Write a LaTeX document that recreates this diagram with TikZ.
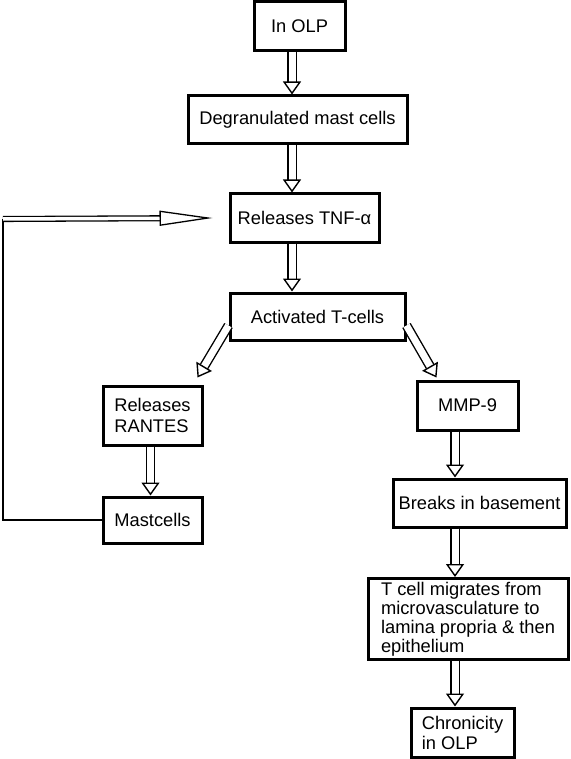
\documentclass[tikz,border=0pt]{standalone}
\usepackage{fontspec}
\setmainfont{Liberation Sans}
\usetikzlibrary{arrows.meta}

\begin{document}
\begin{tikzpicture}[x=1pt, y=-1pt,
  box/.style={draw, line width=3pt, inner sep=1pt, align=center, font=\fontsize{18.3}{21}\selectfont},
  blk/.style={double, double distance=7pt, line width=1.4pt, -{Triangle[length=13pt, width=18pt, fill=white, line width=1.4pt]}},
  fbk/.style={double, double distance=3.5pt, line width=1.3pt, -{Triangle[length=53pt, width=15pt, fill=white, line width=1.3pt]}}]
\useasboundingbox (0,0) rectangle (570,759);
\coordinate (spine) at (292,0);
\coordinate (rspine) at (455,0);
\coordinate (fb) at (3,219);
% main column
\node[box, minimum width=91pt, minimum height=49pt] (olp) at (299.5,26.5) {In OLP};
\node[box, minimum width=219pt, minimum height=48pt] (degr) at (297.5,120) {Degranulated mast cells};
\node[box, minimum width=149pt, minimum height=48pt] (tnf) at (304.5,218) {Releases TNF-α};
\node[box, minimum width=175pt, minimum height=47pt] (act) at (317.5,316.5) {Activated T-cells};
% left branch
\node[box, minimum width=99pt, minimum height=59pt, align=left] (rant) at (152.5,415.5) {Releases\\RANTES};
\node[box, minimum width=99pt, minimum height=46pt] (mast) at (152.5,520) {Mastcells};
% right branch
\node[box, minimum width=101pt, minimum height=49pt] (mmp) at (467.5,405.5) {MMP-9};
\node[box, minimum width=173pt, minimum height=48pt] (brk) at (479.5,503) {Breaks in basement};
\node[box, minimum width=200pt, minimum height=81pt, inner sep=0pt, align=left, font=\fontsize{18.3}{19}\selectfont] (tcell) at (468,619) {T cell migrates from\\microvasculature to\\lamina propria \& then\\epithelium};
\node[box, minimum width=103pt, minimum height=49pt, align=left, font=\fontsize{18.3}{20}\selectfont] (chr) at (462.5,732.5) {Chronicity\\in OLP};
% arrows
\draw[blk] (olp.south -| spine) -- (degr.north -| spine);
\draw[blk] (degr.south -| spine) -- (tnf.north -| spine);
\draw[blk] (tnf.south -| spine) -- (act.north -| spine);
\draw[blk] ([yshift=-9pt]act.west) -- ([shift={(-6pt,7pt)}]rant.north east);
\draw[blk] ([yshift=-9pt]act.east) -- ([shift={(21pt,2pt)}]mmp.north west);
\draw[blk] ([xshift=-2pt]rant.south) -- ([xshift=-2pt]mast.north);
\draw[blk] (mmp.south -| rspine) -- (brk.north -| rspine);
\draw[blk] (brk.south -| rspine) -- (tcell.north -| rspine);
\draw[blk] (tcell.south -| rspine) -- (chr.north -| rspine);
% feedback
\draw[line width=1.3pt] (mast.west) -| (fb);
\draw[fbk] (fb) -- ([xshift=-16pt]tnf.west);
\end{tikzpicture}
\end{document}
